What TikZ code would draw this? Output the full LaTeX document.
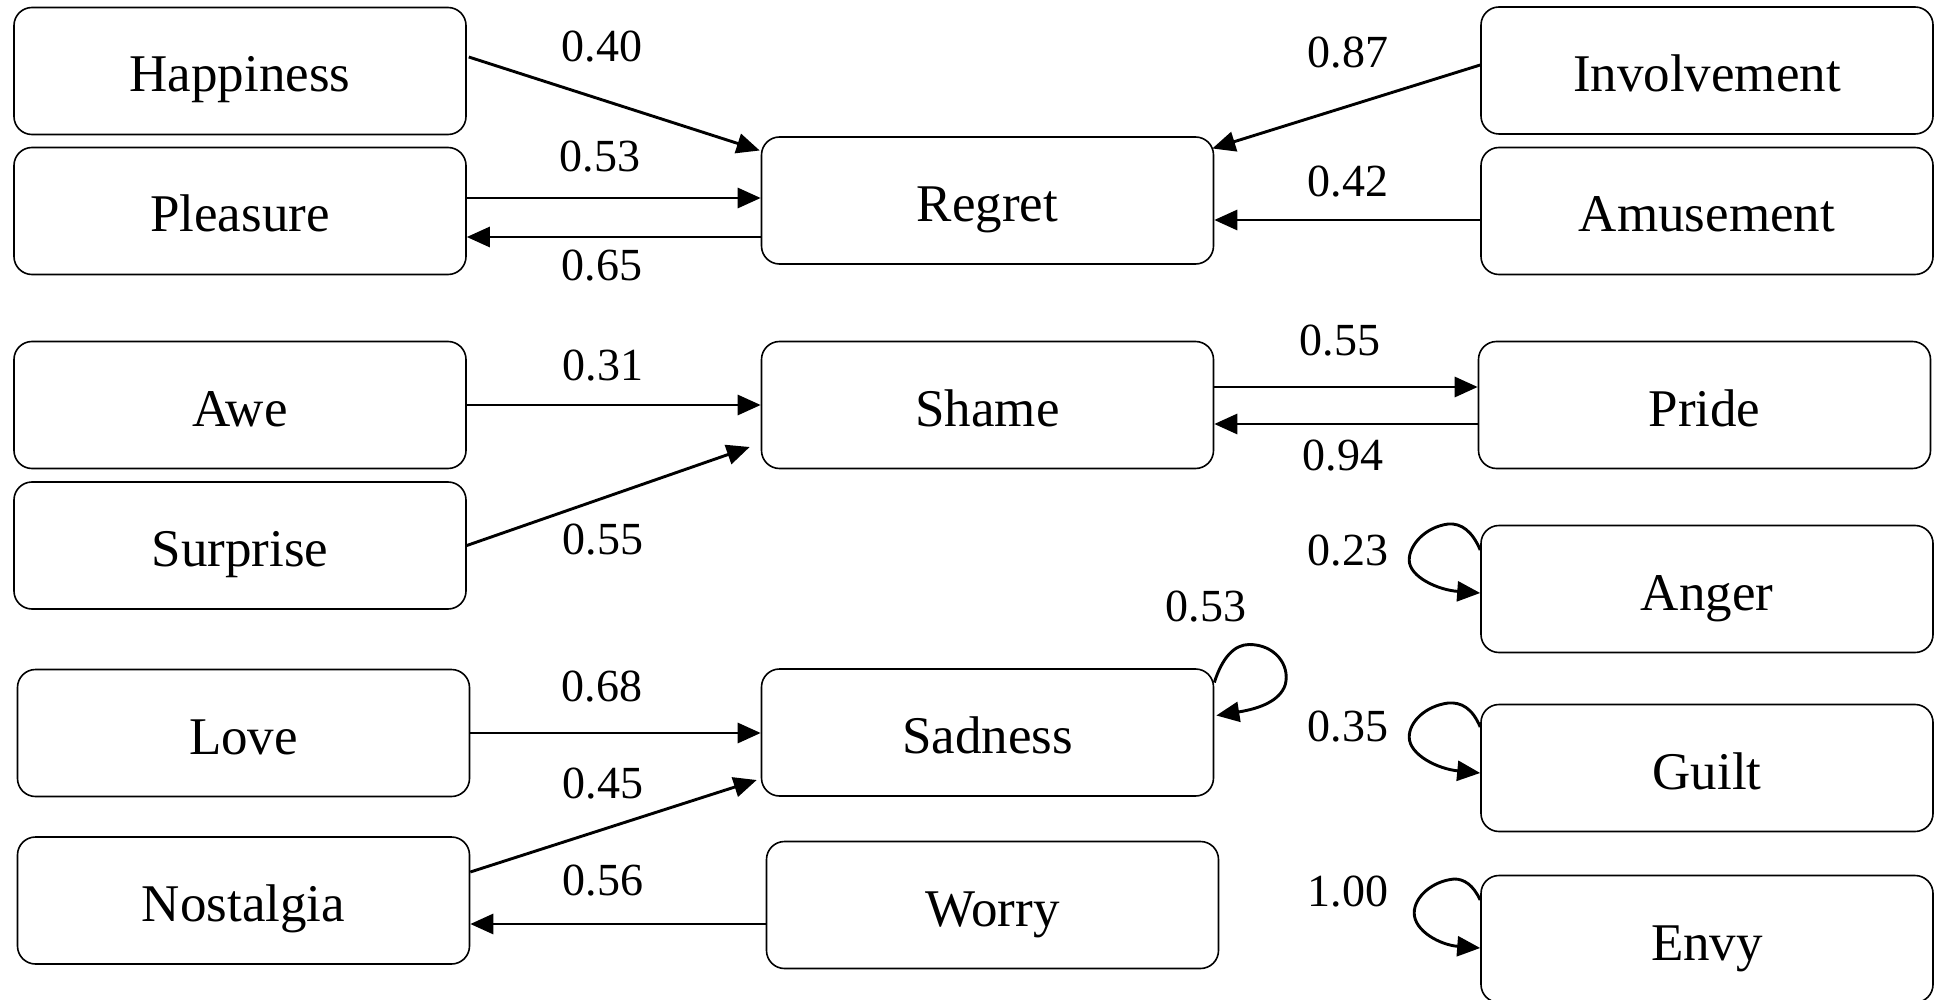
\documentclass[tikz,border=0pt]{standalone}
\usepackage{fontspec}
\setmainfont{Liberation Serif}
\usetikzlibrary{calc,arrows.meta}
\begin{document}
\begin{tikzpicture}[x=1pt,y=-1pt,
  emo/.style={draw, line width=1.6pt, rounded corners=18pt, minimum width=452pt,
    minimum height=127pt, inner sep=0pt, text height=42pt, text depth=0pt,
    font=\fontsize{53}{60}\selectfont},
  wt/.style={inner sep=0pt, font=\fontsize{46}{52}\selectfont},
  arr/.style={line width=2.9pt, -{Triangle[length=23pt,width=20pt]}}]
\useasboundingbox (0,0) rectangle (1938,1000);

% emotion boxes
\node[emo] (hap) at (240,71)    {Happiness};
\node[emo] (ple) at (240,211)   {Pleasure};
\node[emo] (reg) at (987.5,200.5) {Regret};
\node[emo] (inv) at (1707,70.5) {Involvement};
\node[emo] (amu) at (1707,211)  {Amusement};
\node[emo] (awe) at (240,405)   {Awe};
\node[emo] (sur) at (240,545.5) {Surprise};
\node[emo] (sha) at (987.5,405) {Shame};
\node[emo] (pri) at (1704.5,405) {Pride};
\node[emo] (ang) at (1707,589)  {Anger};
\node[emo] (gui) at (1707,768)  {Guilt};
\node[emo] (env) at (1707,939)  {Envy};
\node[emo] (lov) at (243.5,733) {Love};
\node[emo] (sad) at (987.5,732.5) {Sadness};
\node[emo] (nos) at (243.5,900.5) {Nostalgia};
\node[emo] (wor) at (992.5,905) {Worry};

% weights
\node[wt] (w1)  at (602,47)   {0.40};
\node[wt] (w2)  at (600,157)  {0.53};
\node[wt] (w3)  at (602,266)  {0.65};
\node[wt] (w4)  at (1348,53)  {0.87};
\node[wt] (w5)  at (1348,182) {0.42};
\node[wt] (w6)  at (1340,341) {0.55};
\node[wt] (w7)  at (1343,456) {0.94};
\node[wt] (w8)  at (603,366)  {0.31};
\node[wt] (w9)  at (603,540)  {0.55};
\node[wt] (w10) at (602,687)  {0.68};
\node[wt] (w11) at (603,784)  {0.45};
\node[wt] (w12) at (603,881)  {0.56};
\node[wt] (w13) at (1206,607) {0.53};
\node[wt] (w14) at (1348,551) {0.23};
\node[wt] (w15) at (1348,727) {0.35};
\node[wt] (w16) at (1348,892) {1.00};

% connectors
\draw[arr] ($(hap.east)+(2,-14)$) -- ($(reg.west)+(-1,-50)$);
\draw[arr] ($(ple.east)+(0,-13)$) coordinate (p1) -- (p1 -| reg.west);
\draw[arr] ($(reg.west)+(0,36.5)$) coordinate (p2) -- (p2 -| ple.east);
\draw[arr] ($(inv.west)+(0,-5.5)$) -- ($(reg.east)+(-2,-52)$);
\draw[arr] ($(amu.west)+(0,9)$) coordinate (p3) -- (p3 -| reg.east);
\draw[arr] ($(sha.east)+(0,-18)$) coordinate (p4) -- (p4 -| pri.west);
\draw[arr] ($(pri.west)+(0,19)$) coordinate (p5) -- (p5 -| sha.east);
\draw[arr] (awe.east) -- (sha.west);
\draw[arr] (sur.east) -- ($(sha.west)+(-11,42)$);
\draw[arr] (lov.east) -- (lov.east -| sad.west);
\draw[arr] ($(nos.east)+(0,-28.5)$) -- ($(sad.west)+(-4,47.5)$);
\draw[arr] ($(wor.west)+(0,19)$) coordinate (p6) -- (p6 -| nos.east);

% self-loops
\begin{scope}[shift={(sad.east)}]
  \draw[arr] (0,-50) .. controls (8,-75) and (20,-88) .. (35,-88)
    .. controls (60,-88) and (76,-68) .. (71,-48)
    .. controls (66,-32) and (46,-24) .. (2,-17);
\end{scope}
\begin{scope}[shift={(ang.west)}]
  \draw[arr] (0,-39) .. controls (-8,-58) and (-19,-66) .. (-32,-65)
    .. controls (-55,-62) and (-71,-44) .. (-71,-29)
    .. controls (-71,-12) and (-42,1) .. (0,4);
\end{scope}
\begin{scope}[shift={(gui.west)}]
  \draw[arr] (0,-41) .. controls (-8,-60) and (-19,-66) .. (-32,-65)
    .. controls (-55,-62) and (-71,-46) .. (-71,-31)
    .. controls (-71,-13) and (-42,1) .. (0,5);
\end{scope}
\begin{scope}[shift={(env.west)}]
  \draw[arr] (0,-39) .. controls (-7,-54) and (-16,-60) .. (-26,-60)
    .. controls (-48,-58) and (-66,-42) .. (-66,-26)
    .. controls (-66,-8) and (-40,6) .. (0,9);
\end{scope}
\end{tikzpicture}
\end{document}
